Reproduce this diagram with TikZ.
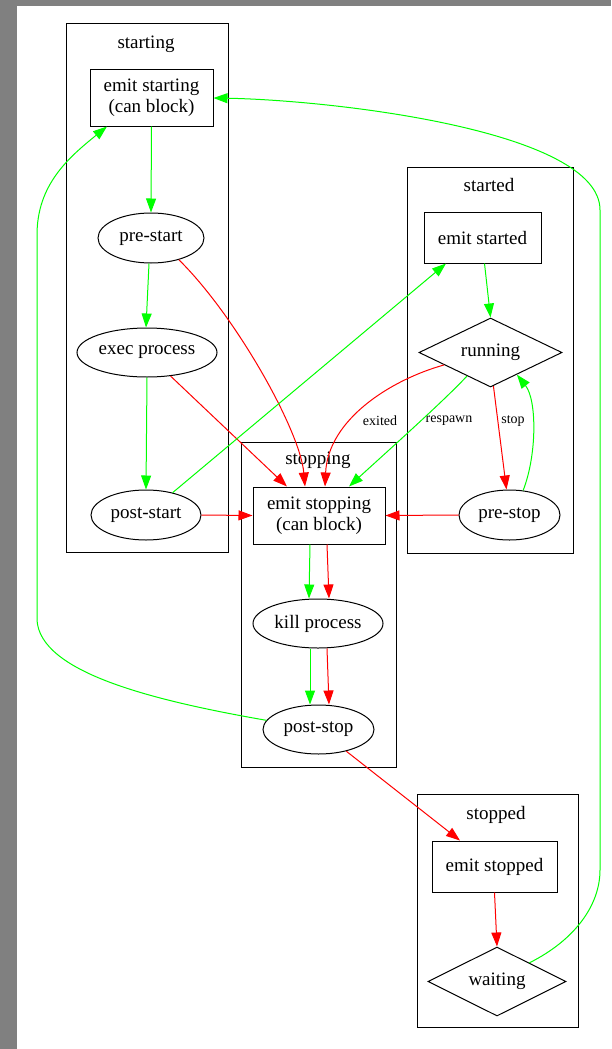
\documentclass[tikz,border=0pt]{standalone}
\usepackage{fontspec}
\setmainfont{Liberation Serif}
\usetikzlibrary{shapes.geometric, arrows.meta}

\begin{document}
\begin{tikzpicture}[x = 1pt, y = -1pt, line width = 1pt,
		box/.style = {draw, rectangle, inner sep = 0pt, align = center, font = \fontsize{19}{21}\selectfont},
		oval/.style = {draw, ellipse, inner sep = 0pt, font = \fontsize{19}{21}\selectfont},
		choice/.style = {draw, diamond, aspect = 2, inner sep = 0pt, font = \fontsize{19}{21}\selectfont},
		title/.style = {inner sep = 0pt, font = \fontsize{19}{21}\selectfont},
		tag/.style = {inner sep = 0pt, font = \fontsize{14}{16}\selectfont},
		go/.style = {draw = green, -{Triangle[length = 14pt, width = 10pt]}},
		halt/.style = {draw = red, -{Triangle[length = 14pt, width = 10pt]}}]
		\useasboundingbox (0, 0) rectangle (611, 1049);
		\fill[gray] (0, 0) rectangle (611, 1049);
		\fill[white] (17, 6) rectangle (611, 1049);
		
		\draw (66, 24) rectangle (228, 552);
		\node[title] (tstarting) at (146, 44) {starting};
		\draw (407, 167) rectangle (573, 553);
		\node[title] (tstarted) at (489, 185) {started};
		\draw (241, 442) rectangle (396, 767);
		\node[title] (tstopping) at (318, 460) {stopping};
		\draw (417, 794) rectangle (578, 1027);
		\node[title] (tstopped) at (496, 815) {stopped};
		
		\node[box, minimum width = 123pt, minimum height = 56pt] (estart) at (151.5, 98) {emit starting\\(can block)};
		\node[oval, minimum width = 106pt, minimum height = 50pt] (prestart) at (151, 238) {pre-start};
		\node[oval, minimum width = 140pt, minimum height = 49pt] (exec) at (147, 352.5) {exec process};
		\node[oval, minimum width = 110pt, minimum height = 50pt] (poststart) at (146, 515) {post-start};
		
		\node[box, minimum width = 117pt, minimum height = 51pt] (estarted) at (482.5, 237.5) {emit started};
		\node[choice, minimum width = 143pt, minimum height = 69pt] (running) at (490.5, 352.5) {running};
		\node[oval, minimum width = 101pt, minimum height = 50pt] (prestop) at (509.5, 515) {pre-stop};
		
		\node[box, minimum width = 132pt, minimum height = 57pt] (estopping) at (319, 515.5) {emit stopping\\(can block)};
		\node[oval, minimum width = 130pt, minimum height = 49pt] (kill) at (318, 623.5) {kill process};
		\node[oval, minimum width = 111pt, minimum height = 49pt] (poststop) at (318.5, 729.5) {post-stop};
		
		\node[box, minimum width = 125pt, minimum height = 51pt] (estopped) at (494.5, 866.5) {emit stopped};
		\node[choice, minimum width = 138pt, minimum height = 69pt] (waiting) at (497, 981.5) {waiting};
		
		\node[tag] (exited) at (380, 421) {exited};
		\node[tag] (respawn) at (449, 421) {respawn};
		\node[tag] (stop) at (513, 421) {stop};
		
		\draw[go] (estart.south) -- (prestart.north);
		\draw[go] ([xshift = -2pt]prestart.south) -- ([xshift = -1pt]exec.north);
		\draw[go] (exec.south) -- (poststart.north);
		\draw[halt] (prestart.-38) .. controls (235, 315) and (300, 430) .. ([xshift = -14pt]estopping.north);
		\draw[halt] (exec.-45) -- ([xshift = -32pt]estopping.north);
		\draw[halt] (poststart.east) -- (estopping.west);
		\draw[go] (poststart.40) -- ([xshift = -36.5pt]estarted.south);
		
		\draw[go] ([xshift = 2pt]estarted.south) -- (running.north);
		\draw[halt] (running.195) .. controls (390, 380) and (328, 420) .. ([xshift = 6pt]estopping.north);
		\draw[go] (running.225) .. controls (445, 400) and (380, 458) .. ([xshift = 30pt]estopping.north);
		\draw[halt] (running.-85) -- ([xshift = -3pt]prestop.north);
		\draw[go] (prestop.61) .. controls (537, 455) and (537, 400) .. (running.-40);
		\draw[halt] (prestop.west) -- (estopping.east);
		
		\draw[go] ([xshift = -9pt]estopping.south) -- ([xshift = -9pt]kill.north);
		\draw[halt] ([xshift = 8pt]estopping.south) -- ([xshift = 11pt]kill.north);
		\draw[go] ([xshift = -8pt]kill.south) -- ([xshift = -8.5pt]poststop.north);
		\draw[halt] ([xshift = 9pt]kill.south) -- ([xshift = 10.5pt]poststop.north);
		\draw[halt] (poststop.-38) -- ([xshift = -34.5pt]estopped.north);
		\draw[halt] (estopped.south) -- (waiting.north);
		
		\draw[go] (poststop.170) .. controls (150, 700) and (40, 672) .. (37, 620) -- (37, 235) .. controls (37, 185) and (68, 158) .. ([xshift = -44.5pt]estart.south);
		\draw[go] (waiting.30) .. controls (575, 940) and (600, 905) .. (600, 870) -- (600, 210) .. controls (600, 130) and (330, 100) .. (estart.east);
	\end{tikzpicture}
\end{document}
